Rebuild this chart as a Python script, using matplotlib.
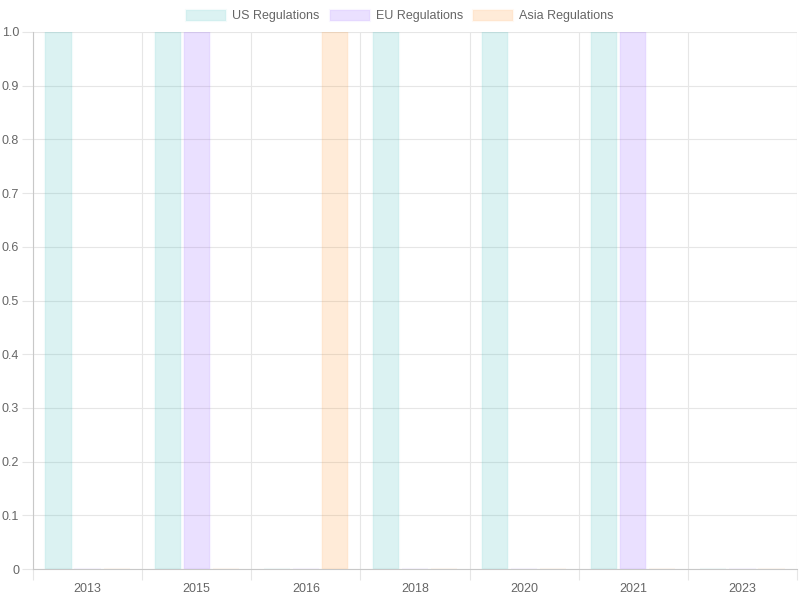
import matplotlib
matplotlib.use("Agg")
import matplotlib.pyplot as plt
from matplotlib.patches import Patch
import numpy as np

plt.rcParams['font.family'] = ['Liberation Sans', 'DejaVu Sans']

years = ['2013', '2015', '2016', '2018', '2020', '2021', '2023']
us_regs = [1, 1, 0, 1, 1, 1, 0]
eu_regs = [0, 1, 0, 0, 0, 1, 0]
asia_regs = [0, 0, 1, 0, 0, 0, 0]

series = [
    ('US Regulations', us_regs, (75/255, 192/255, 192/255)),
    ('EU Regulations', eu_regs, (153/255, 102/255, 255/255)),
    ('Asia Regulations', asia_regs, (255/255, 159/255, 64/255)),
]

fig = plt.figure(figsize=(8, 6), dpi=100)
ax = fig.add_axes([33/800, 31/600, 764/800, 537/600])

x = np.arange(len(years))
slot = 0.8 / len(series)
bw = slot * 0.9
handles = []
for i, (name, vals, col) in enumerate(series):
    off = (i - 1) * slot
    ax.bar(x + off, vals, width=bw, color=(*col, 0.2), edgecolor=(*col, 0.06),
           linewidth=1.5, zorder=2)
    handles.append(Patch(facecolor=(*col, 0.2), edgecolor=(*col, 0.06), linewidth=1.5, label=name))

ax.set_xlim(-0.5, len(years) - 0.5)
ax.set_ylim(0, 1.0)

grid_col = '#e6e6e6'
ax.set_xticks(np.arange(-0.5, len(years)), minor=False)
ax.set_xticklabels([])
ax.set_xticks(x, minor=True)
ax.set_xticklabels(years, minor=True)
ax.tick_params(axis='x', which='major', length=8, color=grid_col, width=0.8)
ax.tick_params(axis='x', which='minor', length=0, pad=10, labelsize=9, labelcolor='#666666')

yt = np.round(np.arange(0, 1.01, 0.1), 1)
ax.set_yticks(yt)
ax.set_yticklabels(['0'] + [f'{v:.1f}' for v in yt[1:]])
ax.tick_params(axis='y', length=8, color=grid_col, width=0.8, labelsize=9, labelcolor='#666666', pad=2)

ax.grid(True, which='major', color=grid_col, linewidth=0.8, zorder=0)
for s in ['top', 'right']:
    ax.spines[s].set_visible(False)
ax.spines['left'].set_color('#c8c8c8')
ax.spines['bottom'].set_color('#c8c8c8')

fig.legend(handles=handles, loc='center', bbox_to_anchor=(0.5, 1 - 16/600), ncol=3,
           frameon=False, fontsize=9, labelcolor='#666666', handlelength=3.2,
           handleheight=1.0, columnspacing=0.8, handletextpad=0.48)

fig.savefig('out.png', dpi=100)
